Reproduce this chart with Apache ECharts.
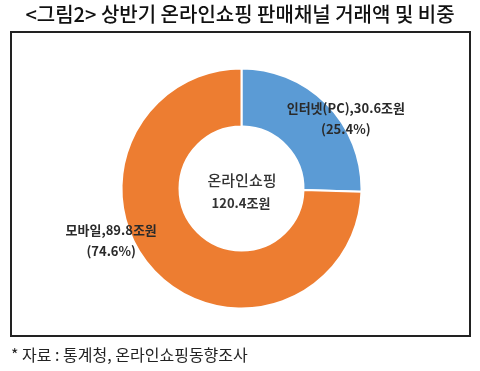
<!DOCTYPE html>
<html><head><meta charset="utf-8">
<script src="https://cdn.jsdelivr.net/npm/echarts@6/dist/echarts.min.js"></script>
<style>html,body{margin:0;padding:0;background:#fff}#c{width:480px;height:371px}</style>
</head><body><div id="c"></div>
<script>
const titleText = '<그림2> 상반기 온라인쇼핑 판매채널 거래액 및 비중';
const sourceText = '* 자료 : 통계청, 온라인쇼핑동향조사';
const centerLabel = '온라인쇼핑';
const totalLabel = '120.4조원';
const categories = ['인터넷(PC)', '모바일'];
const values = [30.6, 89.8];
const shares = ['25.4%', '74.6%'];
const colors = ['#5B9BD5', '#ED7D31'];

const KR = '"Noto Sans CJK KR", "Noto Sans", sans-serif';
const chart = echarts.init(document.getElementById('c'), null, {renderer: 'canvas'});
const labelShift = [[37, -4], [-63, -14]];
chart.setOption({
  animation: false,
  graphic: [
    {type: 'text', left: 'center', top: 4, style: {text: titleText, font: '500 20px ' + KR, fill: '#111'}},
    {type: 'rect', shape: {x: 11, y: 32, width: 459, height: 304}, style: {fill: 'none', stroke: '#222', lineWidth: 2}},
    {type: 'text', left: 11, top: 347, style: {text: sourceText, font: '16px ' + KR, fill: '#222'}},
    {type: 'text', x: 242, y: 180, style: {text: centerLabel, font: '500 15px ' + KR, fill: '#333', align: 'center', verticalAlign: 'middle'}},
    {type: 'text', x: 241, y: 203, style: {text: totalLabel, font: 'bold 13px ' + KR, fill: '#333', align: 'center', verticalAlign: 'middle'}}
  ],
  series: [{
    type: 'pie',
    center: [241.5, 188.5],
    radius: [62, 120],
    startAngle: 90,
    clockwise: true,
    itemStyle: {borderColor: '#fff', borderWidth: 2},
    label: {
      show: true,
      position: 'inside',
      color: '#2a2a2a',
      fontFamily: KR,
      fontWeight: 'bold',
      fontSize: 13,
      lineHeight: 21,
      formatter: p => p.name + ',' + p.value + '조원\n(' + shares[p.dataIndex] + ')'
    },
    labelLayout: p => ({dx: labelShift[p.dataIndex][0], dy: labelShift[p.dataIndex][1]}),
    data: categories.map((n, i) => ({name: n, value: values[i], itemStyle: {color: colors[i]}}))
  }]
});
</script></body></html>
